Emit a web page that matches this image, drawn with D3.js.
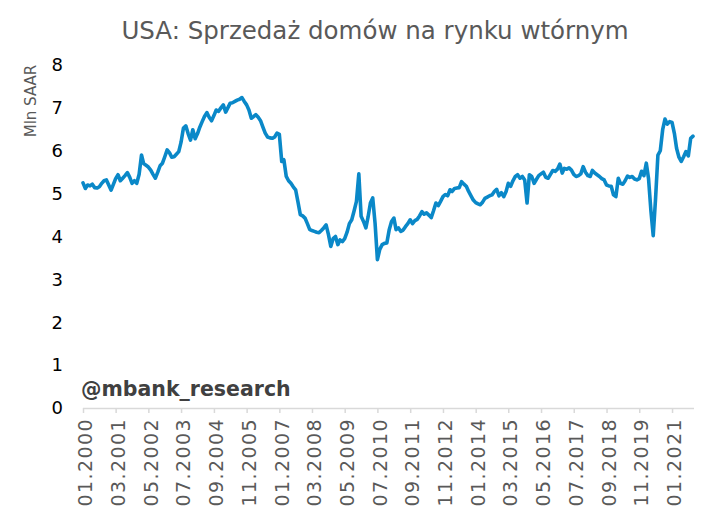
<!DOCTYPE html>
<html>
<head>
<meta charset="utf-8">
<script src="https://cdn.jsdelivr.net/npm/d3@7"></script>
<style>
  body { margin: 0; background: #fff; }
  svg text { font-family: "DejaVu Sans", Verdana, sans-serif; }
</style>
</head>
<body>
<div id="chart"></div>
<script>
// existing home sales, mln SAAR, monthly from 01.2000
const startMonth = "01.2000";
const y2000 = [5.25, 5.12, 5.20, 5.18, 5.22, 5.14, 5.13, 5.16, 5.24, 5.30, 5.32, 5.20];
const y2001 = [5.08, 5.22, 5.35, 5.44, 5.30, 5.36, 5.42, 5.49, 5.38, 5.24, 5.30, 5.24];
const y2002 = [5.45, 5.90, 5.70, 5.66, 5.62, 5.55, 5.45, 5.36, 5.50, 5.65, 5.71, 5.86];
const y2003 = [6.02, 5.95, 5.85, 5.86, 5.92, 5.98, 6.20, 6.53, 6.58, 6.40, 6.25, 6.49];
const y2004 = [6.28, 6.40, 6.55, 6.68, 6.80, 6.89, 6.78, 6.70, 6.82, 6.95, 6.92, 7.00];
const y2005 = [7.07, 6.90, 7.00, 7.11, 7.12, 7.15, 7.18, 7.20, 7.24, 7.15, 7.07, 6.95];
const y2006 = [6.76, 6.80, 6.84, 6.78, 6.70, 6.55, 6.41, 6.32, 6.30, 6.29, 6.32, 6.41];
const y2007 = [6.38, 5.75, 5.79, 5.40, 5.30, 5.24, 5.16, 5.09, 4.80, 4.51, 4.48, 4.43];
const y2008 = [4.30, 4.16, 4.14, 4.12, 4.10, 4.09, 4.14, 4.20, 4.27, 4.05, 3.77, 3.95];
const y2009 = [4.00, 3.81, 3.92, 3.88, 3.95, 4.10, 4.30, 4.39, 4.60, 4.82, 5.46, 4.47];
const y2010 = [4.35, 4.20, 4.45, 4.78, 4.90, 4.30, 3.46, 3.70, 3.81, 3.84, 3.85, 4.15];
const y2011 = [4.35, 4.43, 4.16, 4.20, 4.12, 4.15, 4.23, 4.30, 4.39, 4.30, 4.37, 4.40];
const y2012 = [4.48, 4.58, 4.52, 4.55, 4.50, 4.44, 4.60, 4.78, 4.72, 4.82, 4.93, 4.98];
const y2013 = [4.95, 5.09, 5.05, 5.12, 5.13, 5.14, 5.28, 5.22, 5.17, 5.05, 4.95, 4.85];
const y2014 = [4.79, 4.76, 4.74, 4.80, 4.89, 4.92, 4.95, 4.97, 5.05, 5.10, 4.95, 5.02];
const y2015 = [4.93, 5.05, 5.24, 5.17, 5.30, 5.40, 5.44, 5.36, 5.40, 5.32, 4.78, 5.44];
const y2016 = [5.40, 5.24, 5.33, 5.42, 5.46, 5.50, 5.38, 5.36, 5.45, 5.54, 5.52, 5.57];
const y2017 = [5.69, 5.48, 5.59, 5.57, 5.60, 5.55, 5.45, 5.40, 5.42, 5.46, 5.63, 5.50];
const y2018 = [5.42, 5.40, 5.54, 5.48, 5.44, 5.40, 5.35, 5.32, 5.20, 5.18, 5.17, 4.97];
const y2019 = [4.93, 5.36, 5.24, 5.22, 5.30, 5.41, 5.38, 5.40, 5.34, 5.32, 5.35, 5.52];
const y2020 = [5.42, 5.71, 5.35, 4.60, 4.02, 4.90, 5.90, 6.00, 6.49, 6.74, 6.62, 6.68];
const y2021 = [6.66, 6.40, 6.06, 5.85, 5.75, 5.86, 5.98, 5.88, 6.29, 6.34];

const xTickLabels = ["01.2000", "03.2001", "05.2002", "07.2003", "09.2004", "11.2005",
  "01.2007", "03.2008", "05.2009", "07.2010", "09.2011", "11.2012", "01.2014",
  "03.2015", "05.2016", "07.2017", "09.2018", "11.2019", "01.2021"];
const yTicks = [0, 1, 2, 3, 4, 5, 6, 7, 8];

const values = [].concat(y2000, y2001, y2002, y2003, y2004, y2005, y2006, y2007,
  y2008, y2009, y2010, y2011, y2012, y2013, y2014, y2015, y2016, y2017, y2018,
  y2019, y2020, y2021);

const parseMonth = d3.timeParse("%m.%Y");
const start = parseMonth(startMonth);
const data = values.map((v, i) => ({ date: d3.timeMonth.offset(start, i), value: v }));

const W = 701, H = 521;
const margin = { top: 65, right: 8, bottom: 113, left: 83 };

const svg = d3.select("#chart")
  .append("svg")
  .attr("width", W)
  .attr("height", H);

const x = d3.scaleTime()
  .domain([start, d3.timeMonth.offset(start, 261)])
  .range([margin.left, 693]);

const y = d3.scaleLinear()
  .domain([0, 8])
  .range([H - margin.bottom, margin.top]);

// title
svg.append("text")
  .attr("x", 375)
  .attr("y", 39)
  .attr("text-anchor", "middle")
  .style("font-size", "24.5px")
  .style("fill", "#595959")
  .text("USA: Sprzedaż domów na rynku wtórnym");

// y axis
const yAxis = svg.append("g")
  .attr("transform", `translate(${margin.left},0)`)
  .call(d3.axisLeft(y).tickValues(yTicks).tickSize(0).tickPadding(20));
yAxis.select(".domain").remove();
yAxis.selectAll(".tick text")
  .style("font-size", "18px")
  .style("fill", "#000");

svg.append("text")
  .attr("transform", "rotate(-90)")
  .attr("x", -101)
  .attr("y", 36)
  .attr("text-anchor", "middle")
  .style("font-size", "15px")
  .style("fill", "#595959")
  .text("Mln SAAR");

// x axis
const xAxis = svg.append("g")
  .attr("transform", `translate(0,${y(0)})`)
  .call(d3.axisBottom(x)
    .tickValues(xTickLabels.map(parseMonth))
    .tickSize(5)
    .tickSizeOuter(0)
    .tickFormat(d3.timeFormat("%m.%Y")));
xAxis.select(".domain")
  .attr("d", `M${margin.left},0.5H694`)
  .style("stroke", "#d9d9d9")
  .style("stroke-width", 1.5);
xAxis.selectAll(".tick line")
  .style("stroke", "#d9d9d9")
  .style("stroke-width", 1.5);
xAxis.selectAll(".tick text")
  .attr("transform", "rotate(-90)")
  .attr("text-anchor", "end")
  .attr("x", -10)
  .attr("y", 2)
  .attr("dy", "0.35em")
  .style("font-size", "19px")
  .style("letter-spacing", "1.4px")
  .style("fill", "#595959");

// watermark
svg.append("text")
  .attr("x", 81)
  .attr("y", 396)
  .style("font-size", "20.5px")
  .style("font-weight", "bold")
  .style("fill", "#404040")
  .text("@mbank_research");

// line
const line = d3.line()
  .x(d => x(d.date))
  .y(d => y(d.value));

svg.append("path")
  .datum(data)
  .attr("fill", "none")
  .attr("stroke", "#0a88c8")
  .attr("stroke-width", 3.6)
  .attr("stroke-linejoin", "round")
  .attr("stroke-linecap", "round")
  .attr("d", line);
</script>
</body>
</html>
